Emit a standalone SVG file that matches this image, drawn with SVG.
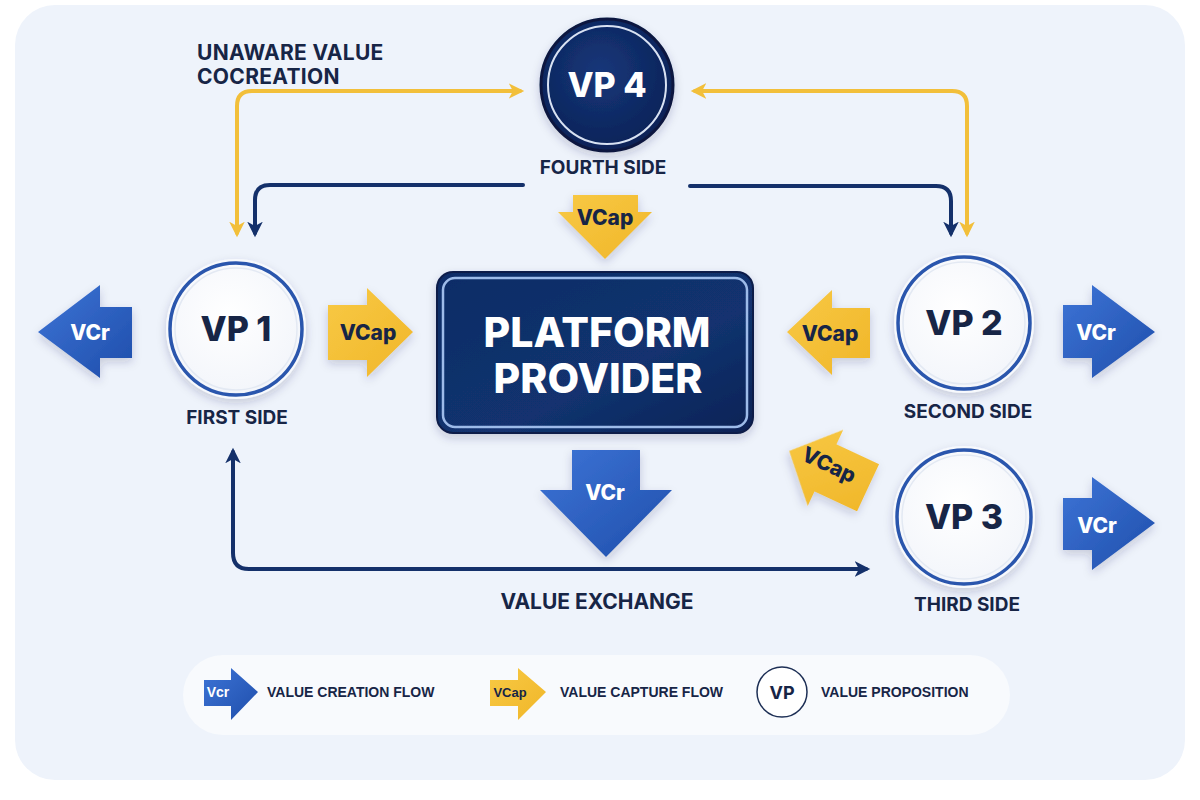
<svg xmlns="http://www.w3.org/2000/svg" width="1200" height="800" viewBox="0 0 1200 800">
<style>
  .t{font-family:Inter,"Liberation Sans",sans-serif;font-weight:700;fill:#172546;text-anchor:middle}
  .lbl{font-size:19px}
  .vp{font-size:34px;font-weight:800}
  .ai{font-size:21px;font-weight:800}
  .w{fill:#ffffff}
  .leg{font-family:"Liberation Sans",Arial,sans-serif;font-weight:700;font-size:14px;fill:#172546;text-anchor:start}
  .conn{fill:none;stroke-width:4;stroke-linecap:round;stroke-linejoin:round}
  .y{stroke:#f2bf3a}
  .n{stroke:#14306a}
  .blue{fill:url(#gBlue)}
  .yel{fill:url(#gYel)}
</style>
<defs>
  <linearGradient id="gBlue" x1="0" y1="0" x2="1" y2="1">
    <stop offset="0" stop-color="#3d74d6"/>
    <stop offset="1" stop-color="#1f4eab"/>
  </linearGradient>
  <linearGradient id="gYel" x1="0" y1="0" x2="1" y2="1">
    <stop offset="0" stop-color="#f8c945"/>
    <stop offset="1" stop-color="#f0b628"/>
  </linearGradient>
  <linearGradient id="gNavy" x1="0" y1="0" x2="1" y2="1">
    <stop offset="0" stop-color="#0f2c66"/>
    <stop offset="0.6" stop-color="#12336f"/>
    <stop offset="1" stop-color="#0b2255"/>
  </linearGradient>
  <radialGradient id="gVP4" cx="0.45" cy="0.4" r="0.7">
    <stop offset="0" stop-color="#16377a"/>
    <stop offset="1" stop-color="#0a1f52"/>
  </radialGradient>
  <radialGradient id="gCirc" cx="0.45" cy="0.4" r="0.7">
    <stop offset="0" stop-color="#ffffff"/>
    <stop offset="1" stop-color="#f1f4fa"/>
  </radialGradient>
  <filter id="sh" x="-30%" y="-30%" width="160%" height="160%">
    <feDropShadow dx="0" dy="4" stdDeviation="5" flood-color="#1a2f5a" flood-opacity="0.2"/>
  </filter>
  <marker id="ahY" viewBox="0 0 12 12" refX="8" refY="6" markerWidth="17" markerHeight="17" markerUnits="userSpaceOnUse" orient="auto-start-reverse">
    <path d="M0,0.5 L11,6 L0,11.5 L3,6 Z" fill="#f2bf3a"/>
  </marker>
  <marker id="ahN" viewBox="0 0 12 12" refX="8" refY="6" markerWidth="17" markerHeight="17" markerUnits="userSpaceOnUse" orient="auto-start-reverse">
    <path d="M0,0.5 L11,6 L0,11.5 L3,6 Z" fill="#14306a"/>
  </marker>
</defs>

<rect width="1200" height="800" fill="#ffffff"/>
<rect x="15" y="5" width="1170" height="775" rx="40" fill="#eef3fb"/>

<g id="connectors">
  <path class="conn y" d="M520,91 L252,91 Q237,91 237,106 L237,233" marker-start="url(#ahY)" marker-end="url(#ahY)"/>
  <path class="conn n" d="M523,185 L270,185 Q255,185 255,200 L255,233" marker-end="url(#ahN)"/>
  <path class="conn y" d="M695,91 L952,91 Q967,91 967,106 L967,233" marker-start="url(#ahY)" marker-end="url(#ahY)"/>
  <path class="conn n" d="M690,186 L936,186 Q951,186 951,201 L951,233" marker-end="url(#ahN)"/>
  <path class="conn n" d="M233,452 L233,553 Q233,569 249,569 L866,569" marker-start="url(#ahN)" marker-end="url(#ahN)"/>
</g>

<g id="label-unaware">
  <text class="t" x="197" y="60" style="text-anchor:start;font-size:21px;letter-spacing:0.3px">UNAWARE VALUE</text>
  <text class="t" x="197" y="84" style="text-anchor:start;font-size:21px;letter-spacing:0.3px">COCREATION</text>
</g>
<g id="label-exchange">
  <text class="t" x="597" y="609" style="font-size:21px">VALUE EXCHANGE</text>
</g>

<g id="vp4">
  <circle cx="607" cy="85" r="66" fill="url(#gVP4)" stroke="#08193f" stroke-width="3" filter="url(#sh)"/>
  <circle cx="607" cy="85" r="59" fill="none" stroke="#d8e2f3" stroke-width="2"/>
  <text class="t vp w" x="607" y="97">VP 4</text>
  <text class="t lbl" x="603" y="174">FOURTH SIDE</text>
</g>

<g id="vp1">
  <circle cx="236" cy="329" r="70" fill="#f7f9fd" filter="url(#sh)"/>
  <circle cx="236" cy="329" r="66" fill="url(#gCirc)" stroke="#2a56ad" stroke-width="3.5"/>
  <circle cx="236" cy="329" r="61" fill="none" stroke="#e3e9f3" stroke-width="1.5"/>
  <text class="t vp" x="236" y="341">VP 1</text>
  <text class="t lbl" x="237" y="424">FIRST SIDE</text>
</g>

<g id="vp2">
  <circle cx="964" cy="323" r="70" fill="#f7f9fd" filter="url(#sh)"/>
  <circle cx="964" cy="323" r="66" fill="url(#gCirc)" stroke="#2a56ad" stroke-width="3.5"/>
  <circle cx="964" cy="323" r="61" fill="none" stroke="#e3e9f3" stroke-width="1.5"/>
  <text class="t vp" x="964" y="335">VP 2</text>
  <text class="t lbl" x="968" y="418">SECOND SIDE</text>
</g>

<g id="vp3">
  <circle cx="964" cy="517" r="71" fill="#f7f9fd" filter="url(#sh)"/>
  <circle cx="964" cy="517" r="67" fill="url(#gCirc)" stroke="#2a56ad" stroke-width="3.5"/>
  <circle cx="964" cy="517" r="62" fill="none" stroke="#e3e9f3" stroke-width="1.5"/>
  <text class="t vp" x="964" y="529">VP 3</text>
  <text class="t lbl" x="967" y="611">THIRD SIDE</text>
</g>

<g id="platform">
  <rect x="437" y="272" width="316" height="161" rx="16" fill="url(#gNavy)" stroke="#0a1d4a" stroke-width="2" filter="url(#sh)"/>
  <rect x="443" y="278" width="304" height="149" rx="12" fill="none" stroke="#9dbbe9" stroke-width="2.5"/>
  <text class="t w" x="597" y="347" style="font-size:41px;font-weight:800">PLATFORM</text>
  <text class="t w" x="598" y="393" style="font-size:41px;font-weight:800">PROVIDER</text>
</g>

<g id="vcr-vp1">
  <path class="blue" d="M38,332 L100,285 L100,307 L132,307 L132,358 L100,358 L100,378 Z" filter="url(#sh)"/>
  <text class="t ai w" x="90" y="340">VCr</text>
</g>
<g id="vcap-vp1">
  <path class="yel" d="M328,305 L367,305 L367,288 L413,332 L367,377 L367,360 L328,360 Z" filter="url(#sh)"/>
  <text class="t ai" x="368" y="340">VCap</text>
</g>
<g id="vcap-vp4">
  <path class="yel" d="M573,195 L638,195 L638,212 L652,212 L605,259 L558,212 L573,212 Z" filter="url(#sh)"/>
  <text class="t ai" x="605" y="225">VCap</text>
</g>
<g id="vcr-platform">
  <path class="blue" d="M572,450 L640,450 L640,490 L672,490 L606,557 L540,490 L572,490 Z" filter="url(#sh)"/>
  <text class="t ai w" x="605" y="500">VCr</text>
</g>
<g id="vcap-vp2">
  <path class="yel" d="M787,332 L832,290 L832,308 L870,308 L870,358 L832,358 L832,375 Z" filter="url(#sh)"/>
  <text class="t ai" x="830" y="341">VCap</text>
</g>
<g id="vcr-vp2">
  <path class="blue" d="M1063,305 L1092,305 L1092,285 L1155,332 L1092,378 L1092,358 L1063,358 Z" filter="url(#sh)"/>
  <text class="t ai w" x="1096" y="340">VCr</text>
</g>
<g id="vcap-vp3" transform="translate(830,470) rotate(25)">
  <path class="yel" d="M-45,0 L-5,-42 L-5,-26 L42,-26 L42,26 L-5,26 L-5,42 Z" filter="url(#sh)"/>
  <text class="t ai" x="-3" y="3">VCap</text>
</g>
<g id="vcr-vp3">
  <path class="blue" d="M1063,498 L1092,498 L1092,477 L1155,523 L1092,570 L1092,550 L1063,550 Z" filter="url(#sh)"/>
  <text class="t ai w" x="1097" y="533">VCr</text>
</g>

<g id="legend">
  <rect x="183" y="655" width="827" height="80" rx="40" fill="#f8fafd"/>
  <path class="blue" d="M204,680 L231,680 L231,668 L258,692 L231,720 L231,706 L204,706 Z"/>
  <text class="t w" x="218" y="697" style="font-size:14px;font-family:'Liberation Sans',sans-serif">Vcr</text>
  <text class="leg" x="267" y="697">VALUE CREATION FLOW</text>
  <path class="yel" d="M490,680 L518,680 L518,668 L546,692 L518,720 L518,706 L490,706 Z"/>
  <text class="t" x="510" y="697" style="font-size:13px;font-family:'Liberation Sans',sans-serif">VCap</text>
  <text class="leg" x="560" y="697">VALUE CAPTURE FLOW</text>
  <circle cx="782" cy="692" r="25" fill="#ffffff" stroke="#1d2f55" stroke-width="1.5"/>
  <text class="t" x="782" y="699" style="font-size:18px">VP</text>
  <text class="leg" x="821" y="697">VALUE PROPOSITION</text>
</g>
</svg>
